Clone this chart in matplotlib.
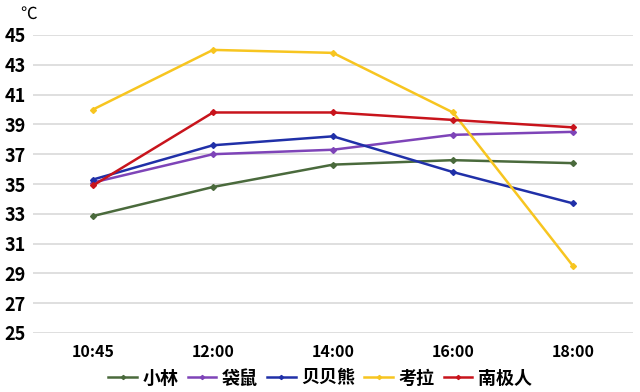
import matplotlib.pyplot as plt

plt.rcParams['font.family'] = ['Noto Sans CJK SC', 'DejaVu Sans']

times = ['10:45', '12:00', '14:00', '16:00', '18:00']
xiaolin = [32.85, 34.8, 36.3, 36.6, 36.4]
daishu = [35.1, 37.0, 37.3, 38.3, 38.5]
beibeixiong = [35.3, 37.6, 38.2, 35.8, 33.7]
kaola = [40.0, 44.0, 43.8, 39.8, 29.5]
nanjiren = [34.9, 39.8, 39.8, 39.3, 38.8]
names = ['小林', '袋鼠', '贝贝熊', '考拉', '南极人']
colors = ['#4a6a3c', '#7e44b8', '#2030a8', '#f7c520', '#c8141c']
yticks = [25, 27, 29, 31, 33, 35, 37, 39, 41, 43, 45]

fig = plt.figure(figsize=(6.4, 3.92), dpi=100)
ax = fig.add_axes([33 / 640, 1 - 333 / 392, 600 / 640, 298 / 392])

x = list(range(len(times)))
for vals, name, c in zip([xiaolin, daishu, beibeixiong, kaola, nanjiren], names, colors):
    ax.plot(x, vals, color=c, lw=1.8, marker='D', ms=3, label=name)

ax.set_xlim(-0.5, 4.5)
ax.set_ylim(25, 45)
ax.set_yticks(yticks)
ax.set_xticks(x)
ax.set_xticklabels(times, fontsize=11.5, fontweight='bold')
ax.set_yticklabels([str(v) for v in yticks], fontsize=13, fontweight='bold')
ax.grid(axis='y', color='#d9d9d9', lw=1.2)
ax.set_axisbelow(True)
for s in ax.spines.values():
    s.set_visible(False)
ax.tick_params(length=0, pad=5)
ax.tick_params(axis='x', pad=8)

fig.text(20 / 640, 1 - 14 / 392, '℃', fontsize=12, ha='left', va='center')

fig.legend(loc='center', bbox_to_anchor=(0.5, 1 - 378 / 392), ncol=5, frameon=False,
           prop={'size': 13, 'weight': 'bold'}, handlelength=1.6, handletextpad=0.3,
           columnspacing=0.5, borderaxespad=0, markerscale=0.7)

fig.savefig('out.png', dpi=100)
